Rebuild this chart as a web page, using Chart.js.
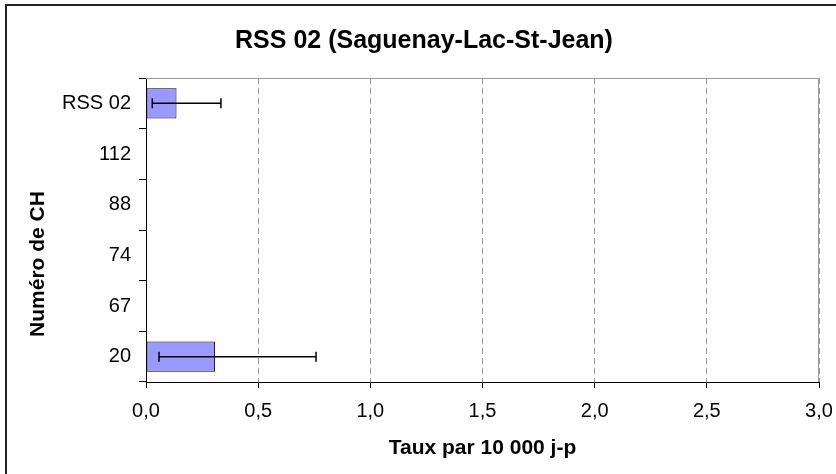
<!DOCTYPE html>
<html>
<head>
    <title>RSS 02 (Saguenay-Lac-St-Jean)</title>
    <meta charset="UTF-8">
    <style>
        body {
            margin: 0;
            background: #fff;
        }
        #wrap {
            position: relative;
            width: 836px;
            height: 474px;
        }
    </style>
    <script src="https://cdn.jsdelivr.net/npm/chart.js"></script>
</head>
<body>
    <div id="wrap"><canvas id="chCanvas"></canvas></div>

    <script>
        // données
        const categories = ['RSS 02', '112', '88', '74', '67', '20'];
        const taux = [0.136, null, null, null, null, 0.308];
        const errBas = [0.028, null, null, null, null, 0.058];
        const errHaut = [0.334, null, null, null, null, 0.758];
        const xTicks = ['0,0', '0,5', '1,0', '1,5', '2,0', '2,5', '3,0'];

        const fontFam = '"Liberation Sans", Arial, sans-serif';

        // cadre extérieur (haut et gauche seulement visibles)
        const framePlugin = {
            id: 'frame',
            beforeDraw(chart) {
                const c = chart.ctx;
                c.save();
                c.fillStyle = '#fff';
                c.fillRect(0, 0, chart.width, chart.height);
                c.fillStyle = '#222';
                c.fillRect(5, 4, chart.width - 5, 2);
                c.fillRect(5, 4, 2, chart.height - 4);
                c.restore();
            },
            beforeDatasetsDraw(chart) {
                const a = chart.chartArea;
                const c = chart.ctx;
                c.save();
                c.strokeStyle = '#999';
                c.lineWidth = 1;
                c.beginPath();
                c.moveTo(a.left, a.top + 0.5);
                c.lineTo(a.right - 0.5, a.top + 0.5);
                c.lineTo(a.right - 0.5, a.bottom);
                c.stroke();
                c.restore();
            },
            afterDraw(chart) {
                // titre de l'axe vertical
                const c = chart.ctx;
                c.save();
                c.translate(38, 264);
                c.rotate(-Math.PI / 2);
                c.fillStyle = '#000';
                c.font = 'bold 21px ' + fontFam;
                c.textAlign = 'center';
                c.textBaseline = 'middle';
                c.fillText('Numéro de CH', 0, 0);
                c.restore();
            }
        };

        // barres d'erreur
        const errorBarPlugin = {
            id: 'errorBars',
            afterDatasetsDraw(chart) {
                const xs = chart.scales.x;
                const meta = chart.getDatasetMeta(0);
                const c = chart.ctx;
                c.save();
                c.strokeStyle = '#000';
                c.lineWidth = 1.5;
                for (let i = 0; i < categories.length; i++) {
                    if (errBas[i] == null || errHaut[i] == null) continue;
                    const y = meta.data[i].y;
                    const x1 = xs.getPixelForValue(errBas[i]);
                    const x2 = xs.getPixelForValue(errHaut[i]);
                    c.beginPath();
                    c.moveTo(x1, y);
                    c.lineTo(x2, y);
                    c.moveTo(x1, y - 5);
                    c.lineTo(x1, y + 5);
                    c.moveTo(x2, y - 5);
                    c.lineTo(x2, y + 5);
                    c.stroke();
                }
                c.restore();
            }
        };

        const ctx = document.getElementById('chCanvas').getContext('2d');
        const chart = new Chart(ctx, {
            type: 'bar',
            data: {
                labels: categories,
                datasets: [{
                    data: taux,
                    backgroundColor: '#9999FF',
                    borderColor: '#000',
                    borderWidth: 1,
                    borderSkipped: false,
                    barPercentage: 0.6,
                    categoryPercentage: 1,
                }],
            },
            options: {
                indexAxis: 'y',
                responsive: true,
                maintainAspectRatio: false,
                animation: false,
                layout: {
                    padding: { left: 12, right: 0, top: 0, bottom: 0 },
                },
                plugins: {
                    legend: { display: false },
                    tooltip: { enabled: false },
                    title: {
                        display: true,
                        text: 'RSS 02 (Saguenay-Lac-St-Jean)',
                        color: '#000',
                        font: { family: fontFam, size: 25, weight: 'bold' },
                        padding: { top: 26, bottom: 22 },
                    },
                },
                scales: {
                    x: {
                        type: 'linear',
                        min: 0,
                        max: 3,
                        ticks: {
                            stepSize: 0.5,
                            color: '#000',
                            padding: 2,
                            font: { family: fontFam, size: 20, lineHeight: 2.15 },
                            callback: (v, i) => xTicks[i],
                        },
                        grid: {
                            color: '#999',
                            tickColor: '#000',
                            tickLength: 6,
                            tickBorderDash: [],
                        },
                        border: { color: '#000', width: 1, dash: [6, 4] },
                        title: {
                            display: true,
                            text: 'Taux par 10 000 j-p',
                            color: '#000',
                            font: { family: fontFam, size: 21, weight: 'bold' },
                            padding: { top: 0, bottom: 13 },
                        },
                        afterFit: (s) => { s.height = 92; },
                    },
                    y: {
                        type: 'category',
                        offset: true,
                        ticks: {
                            color: '#000',
                            padding: 8,
                            font: { family: fontFam, size: 20 },
                        },
                        grid: {
                            offset: true,
                            drawOnChartArea: false,
                            color: '#000',
                            tickLength: 7,
                        },
                        border: { color: '#000', width: 1 },
                        afterFit: (s) => { s.width = 134; },
                    },
                    y2: {
                        type: 'category',
                        position: 'right',
                        display: true,
                        ticks: { display: false },
                        grid: { display: false },
                        border: { display: false },
                        afterFit: (s) => { s.width = 17; },
                    },
                },
            },
            plugins: [framePlugin, errorBarPlugin],
        });
    </script>
</body>
</html>
